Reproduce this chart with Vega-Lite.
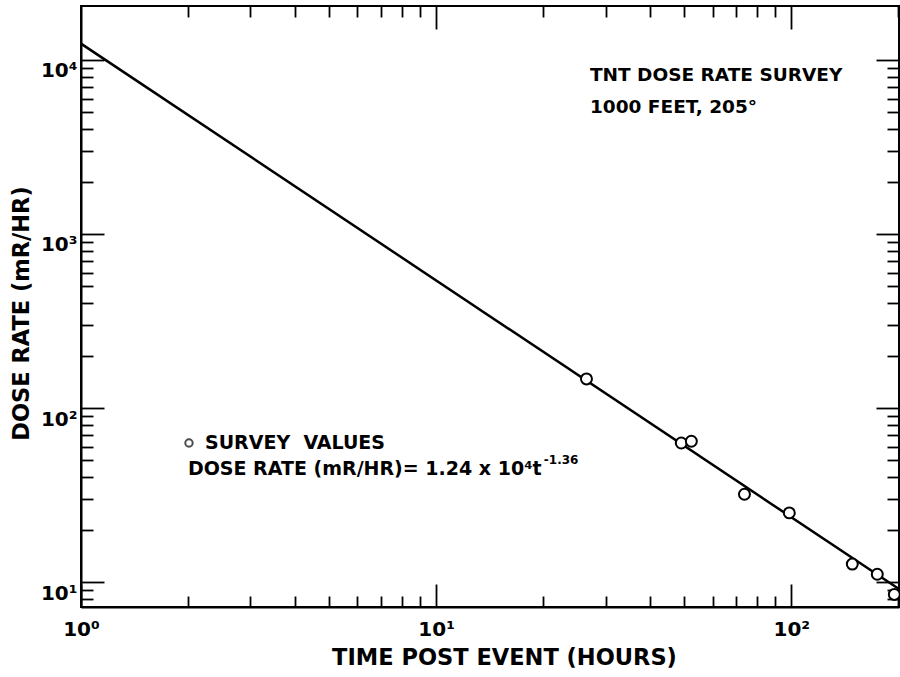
{
  "$schema": "https://vega.github.io/schema/vega-lite/v6.json",
  "width": 818,
  "height": 601,
  "autosize": "none",
  "padding": {"left": 81, "top": 6, "right": 1, "bottom": 70},
  "background": "white",
  "config": {
    "view": {"stroke": "black", "strokeWidth": 2},
    "font": "DejaVu Sans",
    "axis": {"domainColor": "black", "domainWidth": 2, "tickColor": "black", "tickWidth": 1.8, "grid": false, "labelFont": "DejaVu Sans", "labelColor": "black", "titleFont": "DejaVu Sans", "titleColor": "black", "labelFlush": false, "labelOverlap": false}
  },
  "datasets": {
    "fit": [{"t": 1, "dose": 12400}, {"t": 200, "dose": 9.19}],
    "survey": [
      {"t": 26.5, "dose": 147},
      {"t": 49, "dose": 63},
      {"t": 52.3, "dose": 64.5},
      {"t": 73.8, "dose": 32},
      {"t": 98.7, "dose": 25},
      {"t": 148.5, "dose": 12.7},
      {"t": 174.6, "dose": 11.1},
      {"t": 195, "dose": 8.5}
    ],
    "one": [{}]
  },
  "resolve": {"axis": {"x": "independent", "y": "independent"}},
  "layer": [
    {
      "data": {"name": "fit"},
      "mark": {"type": "line", "color": "black", "strokeWidth": 2.5, "clip": true},
      "encoding": {
        "x": {"field": "t", "type": "quantitative",
          "scale": {"type": "log", "domain": [1, 201], "nice": false},
          "axis": {"orient": "bottom", "title": "TIME POST EVENT (HOURS)", "titleFontSize": 22.5, "titleFontWeight": "bold", "titlePadding": 7, "titleX": 423, "titleAlign": "center",
            "values": [1, 10, 100], "ticks": false,
            "labelPadding": 12, "labelFontSize": 20, "labelFontWeight": "bold", "labelBaseline": "top",
            "labelExpr": "datum.value == 1 ? '10⁰' : datum.value == 10 ? '10¹' : datum.value == 100 ? '10²' : ''"}},
        "y": {"field": "dose", "type": "quantitative",
          "scale": {"type": "log", "domain": [7.2, 20400], "nice": false},
          "axis": {"orient": "left", "title": "DOSE RATE (mR/HR)", "titleFontSize": 22.5, "titleFontWeight": "bold", "titlePadding": 7, "titleY": 307, "titleAlign": "center",
            "values": [10, 100, 1000, 10000], "ticks": false,
            "labelPadding": 4, "labelFontSize": 20, "labelFontWeight": "bold", "labelBaseline": "top", "labelOffset": 1,
            "labelExpr": "datum.value == 10 ? '10¹' : datum.value == 100 ? '10²' : datum.value == 1000 ? '10³' : datum.value == 10000 ? '10⁴' : ''"}}
      }
    },
    {
      "data": {"name": "fit"},
      "mark": {"type": "line", "strokeOpacity": 0},
      "encoding": {
        "x": {"field": "t", "type": "quantitative",
          "axis": {"orient": "bottom", "title": null, "labels": false, "domain": false, "values": [1, 10, 100], "tickSize": -23}},
        "y": {"field": "dose", "type": "quantitative",
          "axis": {"orient": "left", "title": null, "labels": false, "domain": false, "values": [10, 100, 1000, 10000], "tickSize": -23}}
      }
    },
    {
      "data": {"name": "fit"},
      "mark": {"type": "line", "strokeOpacity": 0},
      "encoding": {
        "x": {"field": "t", "type": "quantitative",
          "axis": {"orient": "bottom", "title": null, "labels": false, "domain": false,
            "values": [2,3,4,5,6,7,8,9,20,30,40,50,60,70,80,90,200], "tickSize": -11}},
        "y": {"field": "dose", "type": "quantitative",
          "axis": {"orient": "left", "title": null, "labels": false, "domain": false,
            "values": [8,9,20,30,40,50,60,70,80,90,200,300,400,500,600,700,800,900,2000,3000,4000,5000,6000,7000,8000,9000], "tickSize": -12}}
      }
    },
    {
      "data": {"name": "fit"},
      "mark": {"type": "line", "strokeOpacity": 0},
      "encoding": {
        "x": {"field": "t", "type": "quantitative",
          "axis": {"orient": "top", "title": null, "labels": false, "domain": false,
            "values": [2,3,4,5,6,7,8,9,20,30,40,50,60,70,80,90,200], "tickSize": -11}},
        "y": {"field": "dose", "type": "quantitative",
          "axis": {"orient": "right", "title": null, "labels": false, "domain": false,
            "values": [8,9,20,30,40,50,60,70,80,90,200,300,400,500,600,700,800,900,2000,3000,4000,5000,6000,7000,8000,9000], "tickSize": -12}}
      }
    },
    {
      "data": {"name": "survey"},
      "mark": {"type": "point", "shape": "circle", "filled": false, "fill": "white", "fillOpacity": 1, "stroke": "black", "strokeWidth": 2, "size": 120, "opacity": 1},
      "encoding": {
        "x": {"field": "t", "type": "quantitative",
          "axis": {"orient": "top", "title": null, "labels": false, "domain": false, "values": [10, 100], "tickSize": -23}},
        "y": {"field": "dose", "type": "quantitative",
          "axis": {"orient": "right", "title": null, "labels": false, "domain": false, "values": [10, 100, 1000, 10000], "tickSize": -23}}
      }
    },
    {
      "data": {"name": "one"},
      "mark": {"type": "text", "align": "left", "baseline": "middle", "fontSize": 18.5, "fontWeight": "bold", "color": "black", "text": "TNT DOSE RATE SURVEY"},
      "encoding": {
        "x": {"datum": 27.1, "type": "quantitative", "axis": null},
        "y": {"datum": 8190, "type": "quantitative", "axis": null}
      }
    },
    {
      "data": {"name": "one"},
      "mark": {"type": "text", "align": "left", "baseline": "middle", "fontSize": 18.5, "fontWeight": "bold", "color": "black", "text": "1000 FEET, 205°"},
      "encoding": {
        "x": {"datum": 27.1, "type": "quantitative", "axis": null},
        "y": {"datum": 5363, "type": "quantitative", "axis": null}
      }
    },
    {
      "data": {"name": "one"},
      "mark": {"type": "point", "shape": "circle", "filled": false, "stroke": "black", "strokeWidth": 2, "size": 55},
      "encoding": {
        "x": {"datum": 2.014, "type": "quantitative", "axis": null},
        "y": {"datum": 63, "type": "quantitative", "axis": null}
      }
    },
    {
      "data": {"name": "one"},
      "mark": {"type": "text", "align": "left", "baseline": "middle", "fontSize": 19, "fontWeight": "bold", "color": "black", "text": "SURVEY\u00a0 VALUES"},
      "encoding": {
        "x": {"datum": 2.234, "type": "quantitative", "axis": null},
        "y": {"datum": 63, "type": "quantitative", "axis": null}
      }
    },
    {
      "data": {"name": "one"},
      "mark": {"type": "text", "align": "left", "baseline": "middle", "fontSize": 19, "fontWeight": "bold", "color": "black", "text": "DOSE RATE (mR/HR)= 1.24 x 10⁴t"},
      "encoding": {
        "x": {"datum": 2.0, "type": "quantitative", "axis": null},
        "y": {"datum": 44.7, "type": "quantitative", "axis": null}
      }
    },
    {
      "data": {"name": "one"},
      "mark": {"type": "text", "align": "left", "baseline": "middle", "fontSize": 12, "fontWeight": "bold", "color": "black", "text": "-1.36"},
      "encoding": {
        "x": {"datum": 20.1, "type": "quantitative", "axis": null},
        "y": {"datum": 50.5, "type": "quantitative", "axis": null}
      }
    }
  ]
}
